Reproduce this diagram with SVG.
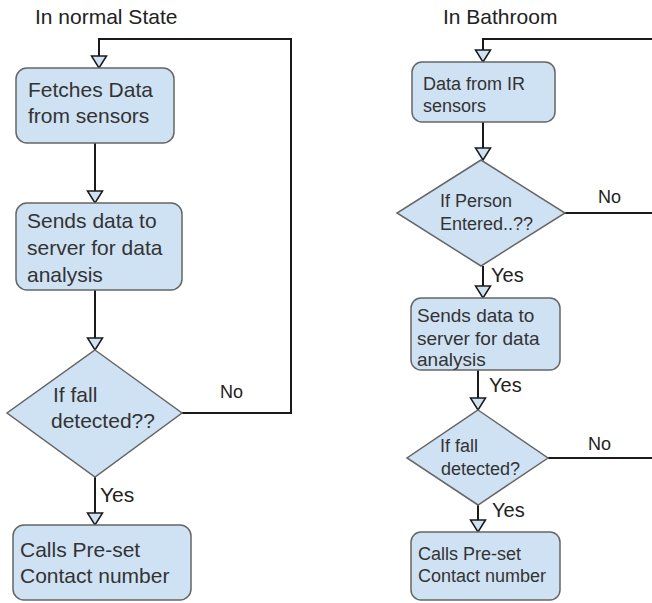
<svg xmlns="http://www.w3.org/2000/svg" width="652" height="603" viewBox="0 0 652 603">
<style>
.title{font-family:"Liberation Sans",Arial,sans-serif;font-size:21px;fill:#222}
.t{font-family:"Liberation Sans",Arial,sans-serif;fill:#333}
.big{font-size:21px}
.sm{font-size:18px}
.lbl{font-family:"Liberation Sans",Arial,sans-serif;fill:#222}
.box{fill:#cfe2f3;stroke:#666;stroke-width:1.5}
.con{fill:none;stroke:#1a1a1a;stroke-width:2}
</style>
<defs>
<marker id="arr" viewBox="-1 -9 14 18" markerWidth="14" markerHeight="18" refX="12" refY="0" orient="auto" markerUnits="userSpaceOnUse">
<path d="M0,-7.5 L12,0 L0,7.5 Z" fill="#cfe2f3" stroke="#1a1a1a" stroke-width="1.5"/>
</marker>
</defs>
<rect width="652" height="603" fill="#fff"/>
<text class="title" x="35" y="24">In normal State</text>
<text class="title" x="443" y="24">In Bathroom</text>

<g id="connectors">
<path class="con" d="M182,413 H291 V39 H99 V68" marker-end="url(#arr)"/>
<path class="con" d="M95,143 V203" marker-end="url(#arr)"/>
<path class="con" d="M95,290 V350" marker-end="url(#arr)"/>
<path class="con" d="M95,477 V525" marker-end="url(#arr)"/>
<path class="con" d="M652,39 H483 V62" marker-end="url(#arr)"/>
<path class="con" d="M483,122 V160" marker-end="url(#arr)"/>
<path class="con" d="M565,213 H652"/>
<path class="con" d="M483,266 V298" marker-end="url(#arr)"/>
<path class="con" d="M478,370 V410" marker-end="url(#arr)"/>
<path class="con" d="M548,458 H652"/>
<path class="con" d="M478,505 V532" marker-end="url(#arr)"/>
<text class="lbl" x="220" y="398" font-size="18">No</text>
<text class="lbl" x="100" y="502" font-size="21">Yes</text>
<text class="lbl" x="598" y="203" font-size="18">No</text>
<text class="lbl" x="491" y="282" font-size="20">Yes</text>
<text class="lbl" x="489" y="392" font-size="20">Yes</text>
<text class="lbl" x="588" y="450" font-size="18">No</text>
<text class="lbl" x="492" y="517" font-size="20">Yes</text>
</g>

<g id="n1">
<rect class="box" x="16" y="68" width="158" height="75" rx="11"/>
<text class="t big" x="28" y="97">Fetches Data</text>
<text class="t big" x="28" y="123">from sensors</text>
</g>
<g id="n2">
<rect class="box" x="16" y="203" width="166" height="87" rx="11"/>
<text class="t big" x="27" y="228">Sends data to</text>
<text class="t big" x="27" y="255">server for data</text>
<text class="t big" x="27" y="282">analysis</text>
</g>
<g id="n3">
<polygon class="box" points="95,350 182,413 95,477 7,413"/>
<text class="t big" x="53" y="402">If fall</text>
<text class="t big" x="51" y="428">detected??</text>
</g>
<g id="n4">
<rect class="box" x="13" y="525" width="178" height="75" rx="11"/>
<text class="t big" x="20" y="557">Calls Pre-set</text>
<text class="t big" x="20" y="583">Contact number</text>
</g>

<g id="r1">
<rect class="box" x="412" y="62" width="143" height="60" rx="10"/>
<text class="t sm" x="423" y="90">Data from IR</text>
<text class="t sm" x="423" y="112">sensors</text>
</g>
<g id="r2">
<polygon class="box" points="481,160 565,213 481,266 397,213"/>
<text class="t sm" x="440" y="207">If Person</text>
<text class="t sm" x="440" y="230">Entered..??</text>
</g>
<g id="r3">
<rect class="box" x="411" y="298" width="149" height="72" rx="10"/>
<text class="t" font-size="19" x="417" y="322">Sends data to</text>
<text class="t" font-size="19" x="417" y="345">server for data</text>
<text class="t" font-size="19" x="417" y="366">analysis</text>
</g>
<g id="r4">
<polygon class="box" points="478,410 548,458 478,505 407,458"/>
<text class="t sm" x="440" y="452">If fall</text>
<text class="t sm" x="441" y="475">detected?</text>
</g>
<g id="r5">
<rect class="box" x="411" y="532" width="149" height="68" rx="10"/>
<text class="t sm" x="418" y="560">Calls Pre-set</text>
<text class="t sm" x="418" y="582">Contact number</text>
</g>
</svg>
